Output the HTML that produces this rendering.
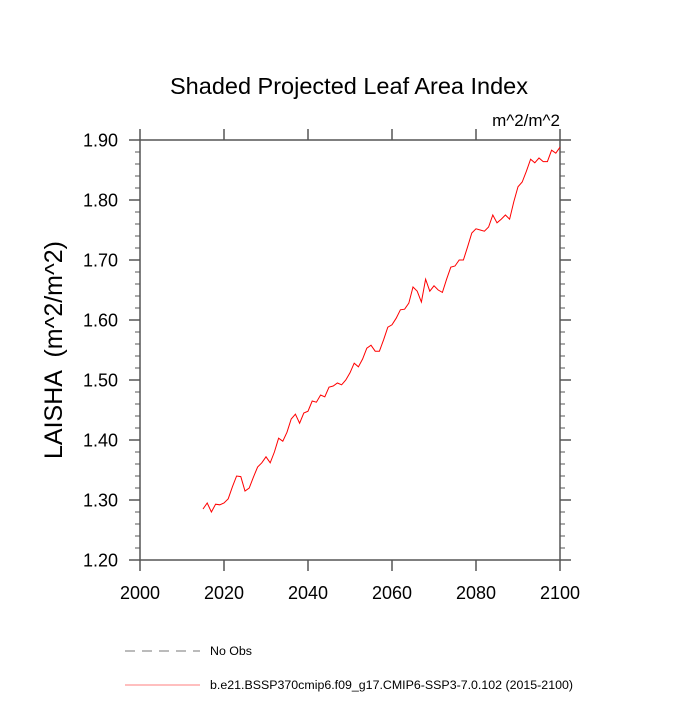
<!DOCTYPE html>
<html><head><meta charset="utf-8"><style>
body{margin:0;background:#fff;}
svg text{font-family:"Liberation Sans",sans-serif;}
</style></head><body>
<svg width="700" height="700" viewBox="0 0 700 700" xmlns="http://www.w3.org/2000/svg">
<rect width="700" height="700" fill="#fff"/>
<text x="349" y="94" font-size="23.5" text-anchor="middle">Shaded Projected Leaf Area Index</text>
<text x="560" y="126" font-size="17" text-anchor="end">m^2/m^2</text>
<text transform="translate(62,350) rotate(-90)" font-size="25" text-anchor="middle" xml:space="preserve">LAISHA  (m^2/m^2)</text>
<g id="axes"></g>
<polyline id="series" fill="none" stroke="#ff0000" stroke-width="1"/>
<line x1="125" y1="651" x2="200" y2="651" stroke="#777" stroke-width="1" stroke-dasharray="10,7"/>
<text x="210" y="655" font-size="12.4">No Obs</text>
<line x1="125" y1="685" x2="200" y2="685" stroke="#ff5555" stroke-width="0.8"/>
<text x="210" y="689" font-size="12.4">b.e21.BSSP370cmip6.f09_g17.CMIP6-SSP3-7.0.102 (2015-2100)</text>
</svg>
<script>
const years=[];for(let y=2015;y<=2100;y++)years.push(y);
const values=[1.285,1.295,1.280,1.293,1.292,1.295,1.302,1.322,1.340,1.339,1.315,1.320,1.338,1.355,1.362,1.372,1.362,1.380,1.403,1.398,1.413,1.435,1.443,1.428,1.445,1.448,1.465,1.463,1.475,1.472,1.488,1.490,1.495,1.492,1.500,1.512,1.528,1.522,1.535,1.553,1.558,1.548,1.548,1.567,1.588,1.592,1.603,1.617,1.618,1.628,1.655,1.648,1.630,1.668,1.648,1.657,1.650,1.646,1.668,1.688,1.690,1.700,1.700,1.722,1.745,1.752,1.750,1.748,1.755,1.775,1.762,1.768,1.775,1.768,1.797,1.822,1.830,1.848,1.868,1.862,1.870,1.864,1.864,1.883,1.878,1.888];
const xTicks=[2000,2020,2040,2060,2080,2100];
const yTicks=[1.2,1.3,1.4,1.5,1.6,1.7,1.8,1.9];
const X0=140,X1=560,Y0=560,Y1=140;
const xs=v=>X0+(v-2000)/100*(X1-X0);
const ys=v=>Y0-(v-1.2)/0.7*(Y0-Y1);
const NS="http://www.w3.org/2000/svg";
const g=document.getElementById('axes');
function mk(t,a){const e=document.createElementNS(NS,t);for(const k in a)e.setAttribute(k,a[k]);g.appendChild(e);return e;}
const frame=mk('rect',{x:X0,y:Y1,width:X1-X0,height:Y0-Y1,fill:'none',stroke:'#555','stroke-width':1.5});


xTicks.forEach(t=>{const x=xs(t);
mk('line',{x1:x,y1:Y0,x2:x,y2:Y0+11,stroke:'#555','stroke-width':1.5});
mk('line',{x1:x,y1:Y1,x2:x,y2:Y1-11,stroke:'#555','stroke-width':1.5});
const tx=mk('text',{x:x,y:Y0+39,'font-size':18,'text-anchor':'middle'});tx.textContent=t;


});
for(let i=0;i<=35;i++){const v=1.2+i*0.02;const y=ys(v);const major=i%5===0;const L=major?11:5;
mk('line',{x1:X0,y1:y,x2:X0-L,y2:y,stroke:'#555','stroke-width':major?1.5:1});
mk('line',{x1:X1,y1:y,x2:X1+L,y2:y,stroke:'#555','stroke-width':major?1.5:1});}
yTicks.forEach(t=>{const tx=mk('text',{x:X0-22,y:ys(t)+6.5,'font-size':18,'text-anchor':'end'});tx.textContent=t.toFixed(2);


});
document.getElementById('series').setAttribute('points',years.map((y,i)=>xs(y)+','+ys(values[i])).join(' '));
</script>
</body></html>
